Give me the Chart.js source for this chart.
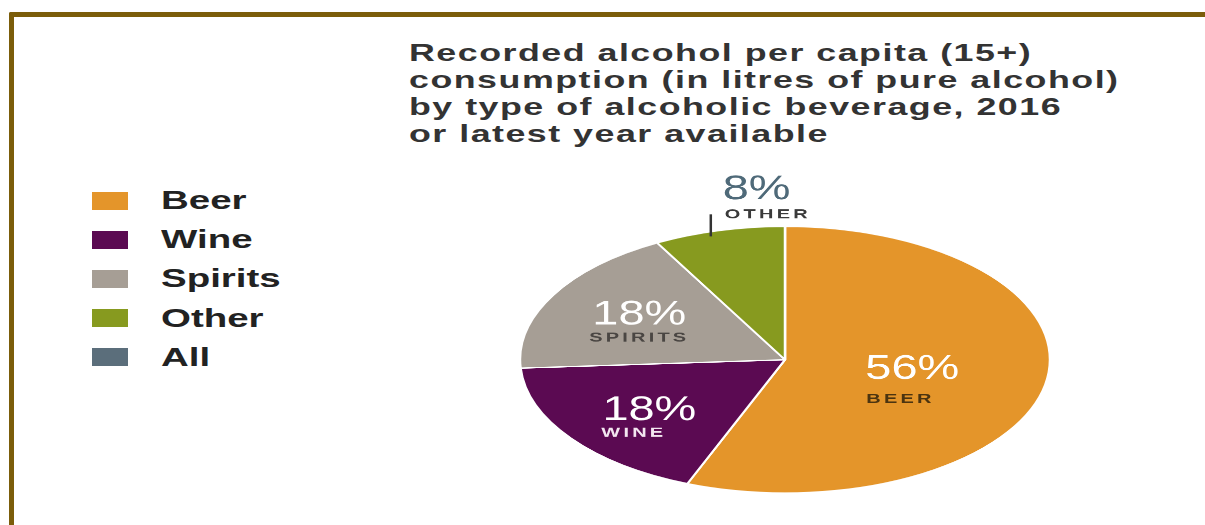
<!DOCTYPE html>
<html>
<head>
<meta charset="utf-8">
<script src="https://cdn.jsdelivr.net/npm/chart.js@4.4.1/dist/chart.umd.min.js"></script>
<style>
  html, body { margin: 0; padding: 0; background: #fff; }
  body { width: 1205px; height: 525px; position: relative; overflow: hidden; font-family: "Liberation Sans", Arial, sans-serif; }
  #frame { position: absolute; left: 9px; top: 12px; width: 1300px; height: 600px;
           border-top: 5px solid #7b5d0a; border-left: 5px solid #7b5d0a; border-top-left-radius: 2px; }
  #title { position: absolute; left: 409px; top: 39px; color: #333; font-weight: bold; font-size: 24px; line-height: 27px; }
  #title div { white-space: nowrap; transform-origin: 0 0; letter-spacing: 1px; }
  #title span { display: inline-block; }
  #legend { position: absolute; left: 92px; top: 181px; }
  .item { height: 39.2px; display: flex; align-items: center; }
  .swatch { width: 36px; height: 18px; flex: none; }
  .label { margin-left: 33px; font-size: 25px; font-weight: bold; color: #222; white-space: nowrap; transform-origin: 0 50%; }
  #pie { position: absolute; left: 520px; top: 161px; }
</style>
</head>
<body>
<div id="frame"></div>
<div id="title"></div>
<div id="legend"></div>
<canvas id="pie" width="530" height="660" style="width:530px;height:332px"></canvas>

<script>
const titleLines = [
  "Recorded alcohol per capita (15+)",
  "consumption (in litres of pure alcohol)",
  "by type of alcoholic beverage, 2016",
  "or latest year available"
];
const categories = ["Beer", "Wine", "Spirits", "Other"];
const shares = [56, 18, 18, 8];
const sliceColors = ["#e4952a", "#5b0a52", "#a69e95", "#879a1f"];
const legendNames = ["Beer", "Wine", "Spirits", "Other", "All"];
const legendColors = ["#e4952a", "#5b0a52", "#a69e95", "#879a1f", "#5b6e7b"];

// title, stretched like the original artwork
const titleBox = document.getElementById("title");
titleLines.forEach(t => {
  const line = document.createElement("div");
  const span = document.createElement("span");
  span.textContent = t;
  line.appendChild(span);
  titleBox.appendChild(line);
});
const titleScale = 710 / titleBox.children[1].firstChild.offsetWidth;
Array.from(titleBox.children).forEach(d => d.style.transform = `scaleX(${titleScale})`);

// legend (includes "All", which has no slice)
const legendBox = document.getElementById("legend");
const legendLabels = [];
legendNames.forEach((name, i) => {
  const row = document.createElement("div");
  row.className = "item";
  const sw = document.createElement("div");
  sw.className = "swatch";
  sw.style.background = legendColors[i];
  const lab = document.createElement("div");
  lab.className = "label";
  lab.textContent = name;
  row.appendChild(sw);
  row.appendChild(lab);
  legendBox.appendChild(row);
  legendLabels.push(lab);
});
const legendScale = 120 / legendLabels[2].offsetWidth;
legendLabels.forEach(l => l.style.transform = `scaleX(${legendScale})`);

// labels inside / above the slices (in units of the pie radius)
const bigColors = ["#ffffff", "#ffffff", "#ffffff", "#4f6a79"];
const smallColors = ["#4b3410", "#f3e6f0", "#4a4643", "#3a3a3a"];
const placement = [
  { big: [0.303, 0.143], small: [0.307, 0.323] },
  { big: [-0.689, 0.451], small: [-0.693, 0.579] },
  { big: [-0.727, -0.263], small: [-0.739, -0.135] },
  { big: [-0.235, -1.203], small: [-0.227, -1.060], tick: [-0.280, -1.09, -0.925] }
];

function stretchedText(ctx, k, px, py, sx, text, font, color, spacing) {
  ctx.save();
  ctx.translate(px, py);
  ctx.scale(sx, 1 / k);
  ctx.font = font;
  ctx.letterSpacing = spacing;
  ctx.fillStyle = color;
  ctx.textBaseline = "alphabetic";
  ctx.fillText(text, 0, 0);
  ctx.restore();
}

const pieLabels = {
  id: "pieLabels",
  afterDatasetsDraw(chart) {
    const ctx = chart.ctx;
    const k = chart.canvas.clientHeight / chart.height;
    const arcs = chart.getDatasetMeta(0).data;
    arcs.forEach((arc, i) => {
      const { x, y, outerRadius: r } = arc.getProps(["x", "y", "outerRadius"], true);
      const p = placement[i];
      const value = chart.data.datasets[0].data[i];

      stretchedText(ctx, k, x + p.big[0] * r, y + p.big[1] * r, 1.38, value + "%",
        "34px 'Liberation Sans', Arial, sans-serif", bigColors[i], "0px");
      stretchedText(ctx, k, x + p.small[0] * r, y + p.small[1] * r, 1.6, chart.data.labels[i].toUpperCase(),
        "bold 12.5px 'Liberation Sans', Arial, sans-serif", smallColors[i], "2px");

      if (p.tick) {
        ctx.save();
        ctx.strokeStyle = "#333";
        ctx.lineWidth = 2.5;
        ctx.beginPath();
        ctx.moveTo(x + p.tick[0] * r, y + p.tick[1] * r);
        ctx.lineTo(x + p.tick[0] * r, y + p.tick[2] * r);
        ctx.stroke();
        ctx.restore();
      }
    });
  }
};

new Chart(document.getElementById("pie").getContext("2d"), {
  type: "pie",
  data: {
    labels: categories,
    datasets: [{
      data: shares,
      backgroundColor: sliceColors,
      borderColor: "#ffffff",
      borderWidth: 2.5,
      hoverOffset: 0
    }]
  },
  options: {
    responsive: false,
    animation: false,
    events: [],
    radius: 265,
    layout: { padding: { top: 130 } },
    plugins: {
      legend: { display: false },
      tooltip: { enabled: false }
    }
  },
  plugins: [pieLabels]
});
</script>
</body>
</html>
